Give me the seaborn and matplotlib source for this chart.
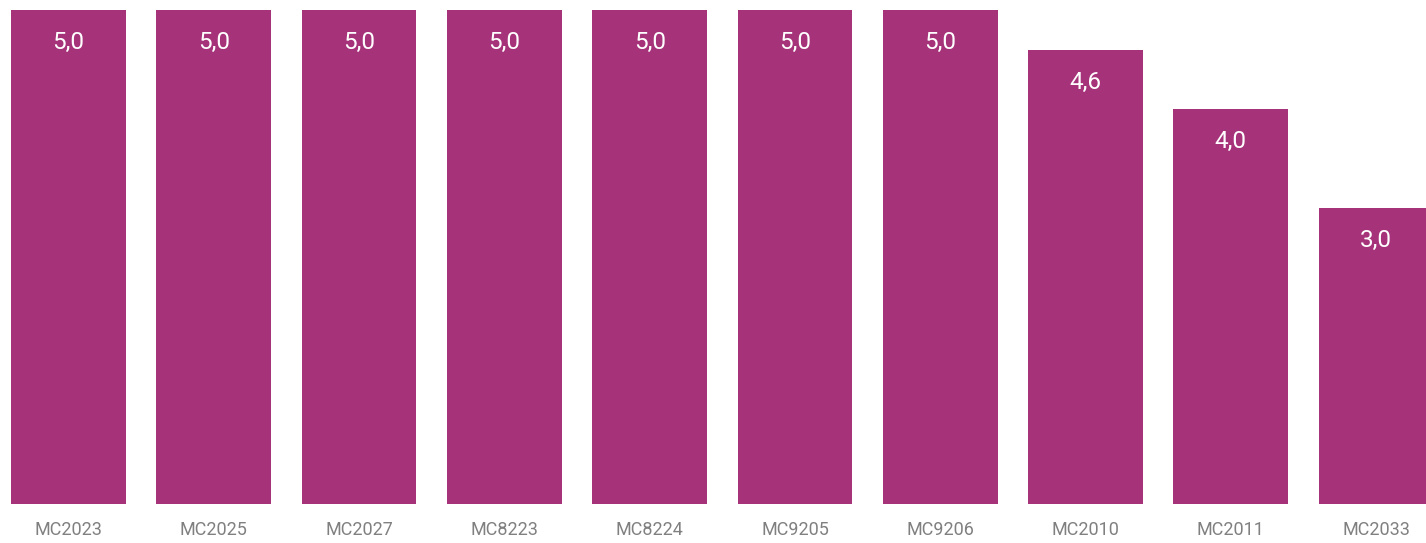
import matplotlib
matplotlib.use("Agg")
import matplotlib.pyplot as plt
import seaborn as sns
import pandas as pd

# data
models = ['MC2023', 'MC2025', 'MC2027', 'MC8223', 'MC8224',
          'MC9205', 'MC9206', 'MC2010', 'MC2011', 'MC2033']
values = [5.0, 5.0, 5.0, 5.0, 5.0, 5.0, 5.0, 4.6, 4.0, 3.0]

df = pd.DataFrame({'model': models, 'value': values})

sns.set_style('white')
plt.rcParams['font.family'] = ['Roboto', 'DejaVu Sans']

fig = plt.figure(figsize=(14.26, 5.43), dpi=100)
ax = fig.add_axes([0, 39 / 543, 1, 494 / 543])

sns.barplot(data=df, x='model', y='value', color='#A6337A',
            saturation=1, width=0.79, linewidth=0, ax=ax)

ax.set_xlim(-0.471, 9.343)
ax.set_ylim(0, 5)

for i, v in enumerate(values):
    ax.text(i, v - 0.33, f'{v:.1f}'.replace('.', ','), ha='center', va='center',
            color='white', fontsize=17.5)

ax.set_xlabel('')
ax.set_ylabel('')
ax.set_yticks([])
ax.tick_params(axis='x', length=0, labelsize=13, labelcolor='#808080', pad=12)
for s in ax.spines.values():
    s.set_visible(False)

fig.savefig('out.png', dpi=100)
